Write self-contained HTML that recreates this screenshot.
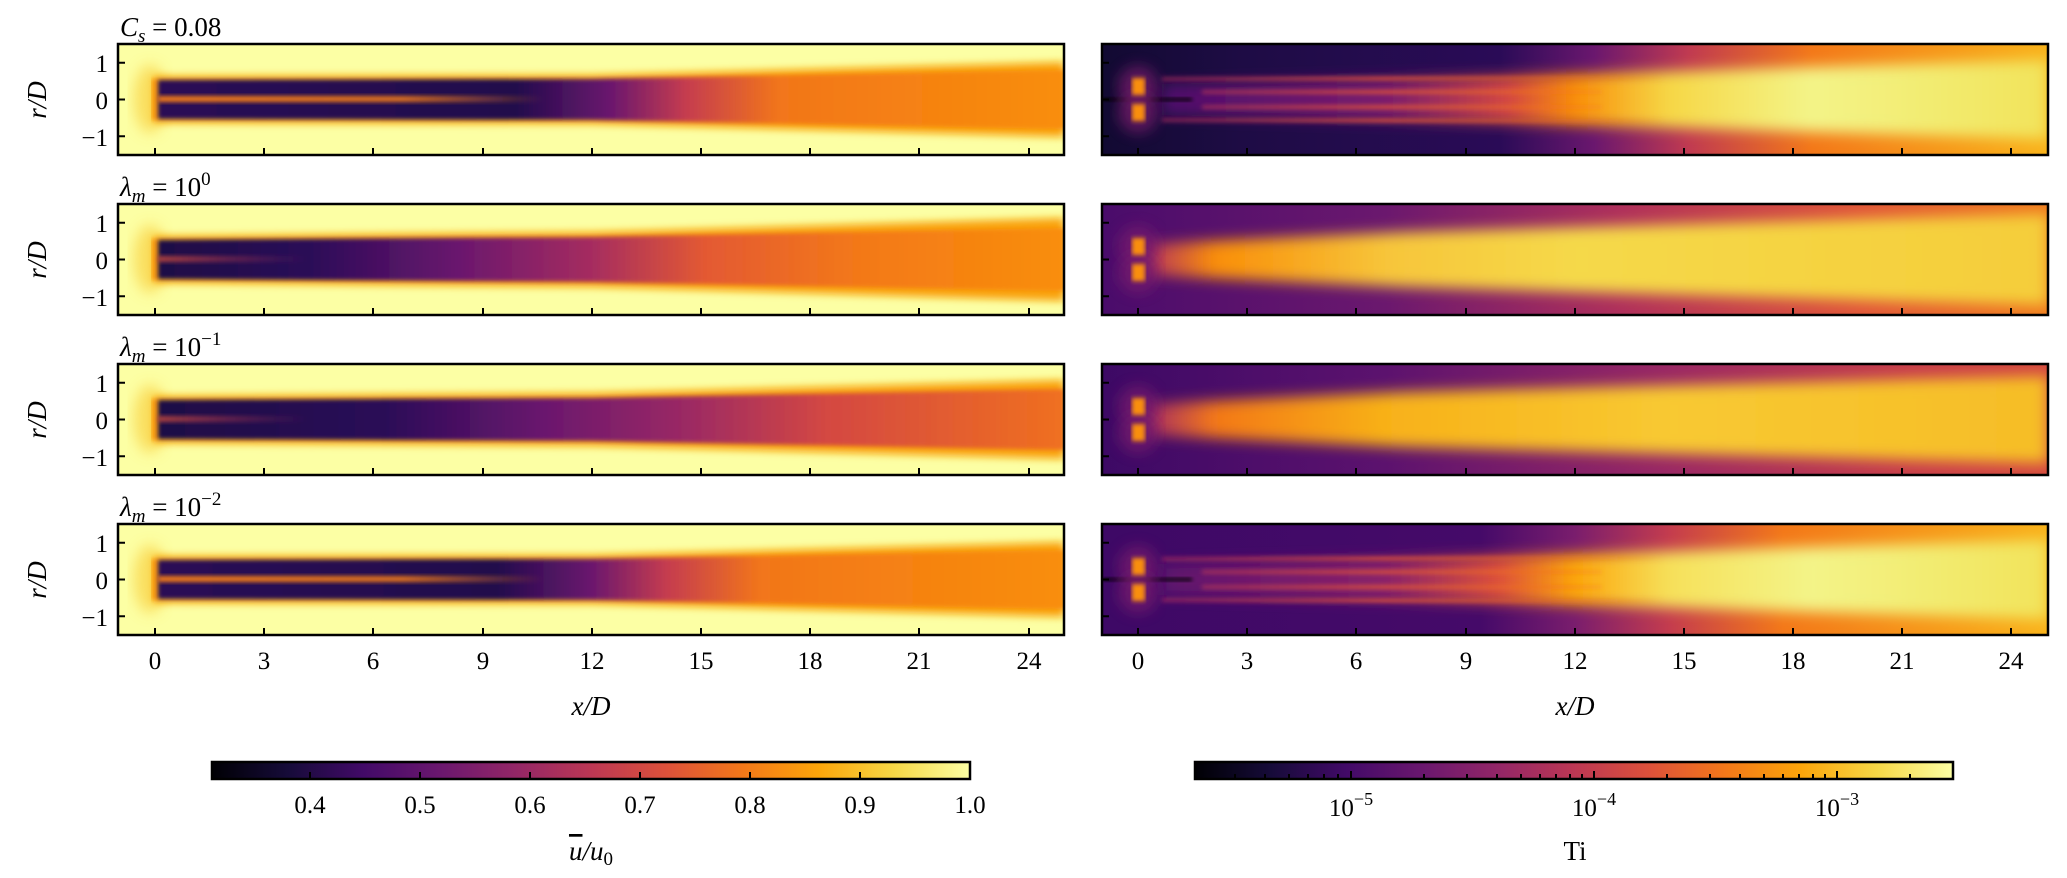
<!DOCTYPE html>
<html><head><meta charset="utf-8"><style>
body{margin:0;background:#fff;}
svg{display:block;}
text{font-family:"Liberation Serif","DejaVu Serif",serif;fill:#000;}
.it{font-style:italic;}
</style></head><body>
<svg width="2067" height="878" viewBox="0 0 2067 878" xmlns="http://www.w3.org/2000/svg">
<defs>
<filter id="b2" x="-10%" y="-50%" width="120%" height="200%"><feGaussianBlur stdDeviation="2"/></filter>
<filter id="b4" x="-10%" y="-50%" width="120%" height="200%"><feGaussianBlur stdDeviation="4"/></filter>
<filter id="b7" x="-20%" y="-80%" width="140%" height="260%"><feGaussianBlur stdDeviation="7"/></filter>
<clipPath id="cp"><rect x="0" y="0" width="946" height="111"/></clipPath>
<linearGradient id="inferno" x1="0" x2="1" y1="0" y2="0">
<stop offset="0" stop-color="#000004"/><stop offset="0.1" stop-color="#160b39"/><stop offset="0.2" stop-color="#420a68"/><stop offset="0.3" stop-color="#6a176e"/><stop offset="0.4" stop-color="#932667"/><stop offset="0.5" stop-color="#bc3754"/><stop offset="0.6" stop-color="#dd513a"/><stop offset="0.7" stop-color="#f37819"/><stop offset="0.8" stop-color="#fca50a"/><stop offset="0.9" stop-color="#f6d746"/><stop offset="1" stop-color="#fcffa4"/>
</linearGradient>
<linearGradient id="L1" gradientUnits="userSpaceOnUse" x1="0" x2="946" y1="0" y2="0">
<stop offset="0.04" stop-color="#2a0b55"/><stop offset="0.42" stop-color="#220c4c"/><stop offset="0.52" stop-color="#6a176e"/><stop offset="0.6" stop-color="#c53c4f"/><stop offset="0.7" stop-color="#f2761a"/><stop offset="1" stop-color="#f98e09"/>
</linearGradient>
<linearGradient id="L2" gradientUnits="userSpaceOnUse" x1="0" x2="946" y1="0" y2="0">
<stop offset="0.04" stop-color="#1e0c45"/><stop offset="0.2" stop-color="#2a0b57"/><stop offset="0.36" stop-color="#6a176e"/><stop offset="0.5" stop-color="#a52c60"/><stop offset="0.62" stop-color="#e35933"/><stop offset="0.78" stop-color="#f37819"/><stop offset="1" stop-color="#f98e09"/>
</linearGradient>
<linearGradient id="L3" gradientUnits="userSpaceOnUse" x1="0" x2="946" y1="0" y2="0">
<stop offset="0.04" stop-color="#1e0c45"/><stop offset="0.28" stop-color="#2a0b57"/><stop offset="0.45" stop-color="#6a176e"/><stop offset="0.6" stop-color="#9b2964"/><stop offset="0.75" stop-color="#d44842"/><stop offset="1" stop-color="#f0701f"/>
</linearGradient>
<linearGradient id="L4" gradientUnits="userSpaceOnUse" x1="0" x2="946" y1="0" y2="0">
<stop offset="0.04" stop-color="#2a0b55"/><stop offset="0.4" stop-color="#220c4c"/><stop offset="0.5" stop-color="#6a176e"/><stop offset="0.58" stop-color="#c53c4f"/><stop offset="0.68" stop-color="#f2761a"/><stop offset="1" stop-color="#f98e09"/>
</linearGradient>
<linearGradient id="fade" gradientUnits="userSpaceOnUse" x1="0" x2="946" y1="0" y2="0">
<stop offset="0" stop-color="#f57d15" stop-opacity="1"/><stop offset="0.3" stop-color="#f57d15" stop-opacity="0.9"/><stop offset="0.45" stop-color="#f57d15" stop-opacity="0"/>
</linearGradient>
<linearGradient id="fade2" gradientUnits="userSpaceOnUse" x1="0" x2="946" y1="0" y2="0">
<stop offset="0" stop-color="#e35933" stop-opacity="1"/><stop offset="0.2" stop-color="#a52c60" stop-opacity="0"/>
</linearGradient>
<linearGradient id="streak" gradientUnits="userSpaceOnUse" x1="0" x2="946" y1="0" y2="0">
<stop offset="0.08" stop-color="#b5345a" stop-opacity="0.6"/><stop offset="0.3" stop-color="#dd513a" stop-opacity="0.9"/><stop offset="0.5" stop-color="#f37819" stop-opacity="0.4"/><stop offset="0.6" stop-color="#f37819" stop-opacity="0"/>
</linearGradient>
<linearGradient id="R1bg" gradientUnits="userSpaceOnUse" x1="0" x2="946" y1="0" y2="0">
<stop offset="0" stop-color="#120a32"/><stop offset="0.15" stop-color="#1e0c45"/><stop offset="0.42" stop-color="#2a0b57"/><stop offset="0.52" stop-color="#6a176e"/><stop offset="0.62" stop-color="#c03a51"/><stop offset="0.75" stop-color="#f37819"/><stop offset="1" stop-color="#f9b31b"/>
</linearGradient>
<linearGradient id="R2bg" gradientUnits="userSpaceOnUse" x1="0" x2="946" y1="0" y2="0">
<stop offset="0" stop-color="#4a0c6b"/><stop offset="0.3" stop-color="#6b186e"/><stop offset="0.55" stop-color="#b0315b"/><stop offset="0.8" stop-color="#e0563a"/><stop offset="1" stop-color="#f07a1e"/>
</linearGradient>
<linearGradient id="R3bg" gradientUnits="userSpaceOnUse" x1="0" x2="946" y1="0" y2="0">
<stop offset="0" stop-color="#3d0965"/><stop offset="0.3" stop-color="#5c126e"/><stop offset="0.6" stop-color="#9b2964"/><stop offset="0.85" stop-color="#c73e4c"/><stop offset="1" stop-color="#d44842"/>
</linearGradient>
<linearGradient id="R4bg" gradientUnits="userSpaceOnUse" x1="0" x2="946" y1="0" y2="0">
<stop offset="0" stop-color="#3e0966"/><stop offset="0.4" stop-color="#450a69"/><stop offset="0.5" stop-color="#7a1d6d"/><stop offset="0.6" stop-color="#c43c4e"/><stop offset="0.72" stop-color="#f37819"/><stop offset="1" stop-color="#f9b31b"/>
</linearGradient>
<linearGradient id="R1c" gradientUnits="userSpaceOnUse" x1="0" x2="946" y1="0" y2="0">
<stop offset="0.05" stop-color="#4a0c6b"/><stop offset="0.3" stop-color="#7a1d6d"/><stop offset="0.43" stop-color="#d44842"/><stop offset="0.5" stop-color="#f98e09"/><stop offset="0.6" stop-color="#f6d746"/><stop offset="0.75" stop-color="#f3f488"/><stop offset="1" stop-color="#f2e35a"/>
</linearGradient>
<linearGradient id="R2c" gradientUnits="userSpaceOnUse" x1="0" x2="946" y1="0" y2="0">
<stop offset="0.05" stop-color="#b5345a"/><stop offset="0.12" stop-color="#f98e09"/><stop offset="0.3" stop-color="#f7c53a"/><stop offset="0.5" stop-color="#f5d949"/><stop offset="1" stop-color="#f5cd3a"/>
</linearGradient>
<linearGradient id="R3c" gradientUnits="userSpaceOnUse" x1="0" x2="946" y1="0" y2="0">
<stop offset="0.05" stop-color="#a52c60"/><stop offset="0.12" stop-color="#f37819"/><stop offset="0.3" stop-color="#f8b119"/><stop offset="0.6" stop-color="#f8c932"/><stop offset="1" stop-color="#f6bd27"/>
</linearGradient>
<linearGradient id="R4c" gradientUnits="userSpaceOnUse" x1="0" x2="946" y1="0" y2="0">
<stop offset="0.05" stop-color="#5c126e"/><stop offset="0.3" stop-color="#8a226a"/><stop offset="0.42" stop-color="#dd513a"/><stop offset="0.5" stop-color="#fca50a"/><stop offset="0.6" stop-color="#f6e05a"/><stop offset="0.75" stop-color="#f3f488"/><stop offset="1" stop-color="#f2e35a"/>
</linearGradient>
<g id="ticksL">
<path d="M37 111v-7M146 111v-7M255 111v-7M365 111v-7M474 111v-7M583 111v-7M692 111v-7M801 111v-7M911 111v-7M0 18.8h7M0 55.5h7M0 92.2h7" stroke="#000" stroke-width="2"/>
</g>
<g id="ticksR">
<path d="M36 111v-7M145 111v-7M254 111v-7M364 111v-7M473 111v-7M582 111v-7M691 111v-7M800 111v-7M909 111v-7M0 18.8h7M0 55.5h7M0 92.2h7" stroke="#000" stroke-width="2"/>
</g>
<g id="nozL">
<ellipse cx="32" cy="55" rx="16" ry="34" fill="#f9d040" opacity="0.7" filter="url(#b7)"/>
<rect x="34" y="35" width="7" height="41" fill="#f98e09" filter="url(#b2)"/>
</g>
<g id="nozR">
<circle cx="36" cy="42" r="20" fill="#7c1d6d" opacity="0.7" filter="url(#b7)"/>
<circle cx="36" cy="69" r="20" fill="#7c1d6d" opacity="0.7" filter="url(#b7)"/>
<rect x="30" y="34" width="13" height="17" fill="#f98e09" filter="url(#b2)"/>
<rect x="30" y="60" width="13" height="17" fill="#f98e09" filter="url(#b2)"/>
</g>
</defs>

<g transform="translate(118,44)"><g clip-path="url(#cp)">
<rect width="946" height="111" fill="#fcffa4"/>
<use href="#nozL"/>
<polygon points="36,32 474,31 946,18 946,93 474,80 36,79" fill="#f9a20f" filter="url(#b4)"/>
<polygon points="40,36 474,35 946,26 946,85 474,76 40,75" fill="url(#L1)" filter="url(#b2)"/>
<rect x="40" y="52" width="420" height="6" fill="url(#fade)" filter="url(#b2)"/>
</g><use href="#ticksL"/><rect x="0" y="0" width="946" height="111" fill="none" stroke="#000" stroke-width="2.5"/></g>

<g transform="translate(118,204)"><g clip-path="url(#cp)">
<rect width="946" height="111" fill="#fcffa4"/>
<use href="#nozL"/>
<polygon points="36,32 474,28 946,14 946,97 474,83 36,79" fill="#f9a20f" filter="url(#b4)"/>
<polygon points="40,36 474,33 946,24 946,87 474,78 40,75" fill="url(#L2)" filter="url(#b2)"/>
<rect x="40" y="52" width="200" height="6" fill="url(#fade2)" filter="url(#b2)"/>
</g><use href="#ticksL"/><rect x="0" y="0" width="946" height="111" fill="none" stroke="#000" stroke-width="2.5"/></g>

<g transform="translate(118,364)"><g clip-path="url(#cp)">
<rect width="946" height="111" fill="#fcffa4"/>
<use href="#nozL"/>
<polygon points="36,32 474,29 946,16 946,95 474,82 36,79" fill="#f9a20f" filter="url(#b4)"/>
<polygon points="40,36 474,34 946,25 946,86 474,77 40,75" fill="url(#L3)" filter="url(#b2)"/>
<rect x="40" y="52" width="240" height="6" fill="url(#fade2)" filter="url(#b2)"/>
</g><use href="#ticksL"/><rect x="0" y="0" width="946" height="111" fill="none" stroke="#000" stroke-width="2.5"/></g>

<g transform="translate(118,524)"><g clip-path="url(#cp)">
<rect width="946" height="111" fill="#fcffa4"/>
<use href="#nozL"/>
<polygon points="36,32 474,31 946,18 946,93 474,80 36,79" fill="#f9a20f" filter="url(#b4)"/>
<polygon points="40,36 474,35 946,26 946,85 474,76 40,75" fill="url(#L4)" filter="url(#b2)"/>
<rect x="40" y="52" width="400" height="6" fill="url(#fade)" filter="url(#b2)"/>
</g><use href="#ticksL"/><rect x="0" y="0" width="946" height="111" fill="none" stroke="#000" stroke-width="2.5"/></g>

<g transform="translate(1102,44)"><g clip-path="url(#cp)">
<rect width="946" height="111" fill="url(#R1bg)"/>
<polygon points="60,40 474,30 946,16 946,95 474,81 60,71" fill="url(#R1c)" filter="url(#b7)"/>
<path d="M60 35 L560 34 M60 76 L560 77 M100 48 L500 48 M100 63 L500 63" stroke="url(#streak)" stroke-width="4" filter="url(#b2)"/>
<rect x="0" y="54" width="90" height="3" fill="#000004" filter="url(#b2)"/>
<use href="#nozR"/>
</g><use href="#ticksR"/><rect x="0" y="0" width="946" height="111" fill="none" stroke="#000" stroke-width="2.5"/></g>

<g transform="translate(1102,204)"><g clip-path="url(#cp)">
<rect width="946" height="111" fill="url(#R2bg)"/>
<polygon points="45,40 300,28 946,10 946,101 300,83 45,71" fill="url(#R2c)" filter="url(#b7)"/>
<use href="#nozR"/>
</g><use href="#ticksR"/><rect x="0" y="0" width="946" height="111" fill="none" stroke="#000" stroke-width="2.5"/></g>

<g transform="translate(1102,364)"><g clip-path="url(#cp)">
<rect width="946" height="111" fill="url(#R3bg)"/>
<polygon points="45,40 300,28 946,12 946,99 300,83 45,71" fill="url(#R3c)" filter="url(#b7)"/>
<use href="#nozR"/>
</g><use href="#ticksR"/><rect x="0" y="0" width="946" height="111" fill="none" stroke="#000" stroke-width="2.5"/></g>

<g transform="translate(1102,524)"><g clip-path="url(#cp)">
<rect width="946" height="111" fill="url(#R4bg)"/>
<polygon points="60,40 474,30 946,16 946,95 474,81 60,71" fill="url(#R4c)" filter="url(#b7)"/>
<path d="M60 35 L560 34 M60 76 L560 77 M100 48 L500 48 M100 63 L500 63" stroke="url(#streak)" stroke-width="4" filter="url(#b2)"/>
<rect x="0" y="54" width="90" height="3" fill="#000004" filter="url(#b2)"/>
<use href="#nozR"/>
</g><use href="#ticksR"/><rect x="0" y="0" width="946" height="111" fill="none" stroke="#000" stroke-width="2.5"/></g>

<text x="120" y="36" font-size="27"><tspan class="it">C</tspan><tspan class="it" font-size="19" dy="6">s</tspan><tspan dy="-6"> = 0.08</tspan></text>
<text x="120" y="196" font-size="27"><tspan class="it">λ</tspan><tspan class="it" font-size="19" dy="6">m</tspan><tspan dy="-6"> = 10</tspan><tspan font-size="19" dy="-11">0</tspan></text>
<text x="120" y="356" font-size="27"><tspan class="it">λ</tspan><tspan class="it" font-size="19" dy="6">m</tspan><tspan dy="-6"> = 10</tspan><tspan font-size="19" dy="-11">−1</tspan></text>
<text x="120" y="516" font-size="27"><tspan class="it">λ</tspan><tspan class="it" font-size="19" dy="6">m</tspan><tspan dy="-6"> = 10</tspan><tspan font-size="19" dy="-11">−2</tspan></text>

<g font-size="25" text-anchor="end">
<text x="108" y="72">1</text><text x="108" y="109">0</text><text x="108" y="146">−1</text>
<text x="108" y="232">1</text><text x="108" y="269">0</text><text x="108" y="306">−1</text>
<text x="108" y="392">1</text><text x="108" y="429">0</text><text x="108" y="466">−1</text>
<text x="108" y="552">1</text><text x="108" y="589">0</text><text x="108" y="626">−1</text>
</g>
<g font-size="27" text-anchor="middle">
<text transform="translate(46,100) rotate(-90)" class="it">r/D</text>
<text transform="translate(46,260) rotate(-90)" class="it">r/D</text>
<text transform="translate(46,420) rotate(-90)" class="it">r/D</text>
<text transform="translate(46,580) rotate(-90)" class="it">r/D</text>
</g>

<g font-size="25" text-anchor="middle">
<text x="155" y="669">0</text><text x="264" y="669">3</text><text x="373" y="669">6</text><text x="483" y="669">9</text><text x="592" y="669">12</text><text x="701" y="669">15</text><text x="810" y="669">18</text><text x="919" y="669">21</text><text x="1029" y="669">24</text>
<text x="1138" y="669">0</text><text x="1247" y="669">3</text><text x="1356" y="669">6</text><text x="1466" y="669">9</text><text x="1575" y="669">12</text><text x="1684" y="669">15</text><text x="1793" y="669">18</text><text x="1902" y="669">21</text><text x="2011" y="669">24</text>
</g>
<text x="591" y="715" font-size="27" class="it" text-anchor="middle">x/D</text>
<text x="1575" y="715" font-size="27" class="it" text-anchor="middle">x/D</text>

<rect x="212" y="762" width="758" height="17" fill="url(#inferno)" stroke="#000" stroke-width="2.5"/>
<path d="M310 779v-7M420 779v-7M530 779v-7M640 779v-7M750 779v-7M860 779v-7" stroke="#000" stroke-width="2"/>
<g font-size="25" text-anchor="middle">
<text x="310" y="813">0.4</text><text x="420" y="813">0.5</text><text x="530" y="813">0.6</text><text x="640" y="813">0.7</text><text x="750" y="813">0.8</text><text x="860" y="813">0.9</text><text x="970" y="813">1.0</text>
</g>
<text x="591" y="860" font-size="27" text-anchor="middle"><tspan class="it" text-decoration="overline">u</tspan><tspan class="it">/u</tspan><tspan font-size="19" dy="5">0</tspan></text>

<rect x="1195" y="762" width="758" height="17" fill="url(#inferno)" stroke="#000" stroke-width="2.5"/>
<path d="M1235 779v-5M1265 779v-5M1289 779v-5M1308 779v-5M1324 779v-5M1338 779v-5M1351 779v-8
M1424 779v-5M1467 779v-5M1497 779v-5M1521 779v-5M1540 779v-5M1556 779v-5M1570 779v-5M1582 779v-5M1594 779v-8
M1667 779v-5M1710 779v-5M1740 779v-5M1764 779v-5M1783 779v-5M1799 779v-5M1813 779v-5M1825 779v-5M1837 779v-8M1910 779v-5" stroke="#000" stroke-width="2"/>
<g font-size="25" text-anchor="middle">
<text x="1351" y="816">10<tspan font-size="18" dy="-11">−5</tspan></text>
<text x="1594" y="816">10<tspan font-size="18" dy="-11">−4</tspan></text>
<text x="1837" y="816">10<tspan font-size="18" dy="-11">−3</tspan></text>
</g>
<text x="1575" y="860" font-size="27" text-anchor="middle">Ti</text>
</svg>
</body></html>
